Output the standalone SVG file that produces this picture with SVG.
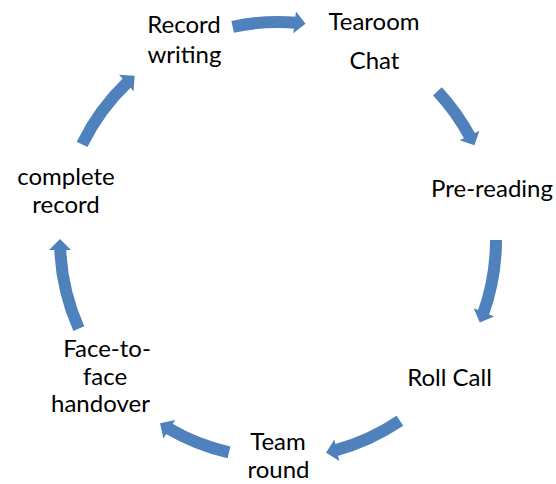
<svg xmlns="http://www.w3.org/2000/svg" width="556" height="484" viewBox="0 0 556 484">
<style>
.lbl{font-family:Lato,"Liberation Sans",sans-serif;font-size:24px;fill:#000;text-anchor:middle}
.shaft{fill:none;stroke:#4f81bd;stroke-width:12}
.head{fill:#4f81bd}
</style>
<defs>
<polygon id="hd" class="head" points="268,11 279,22 268,33"/>
</defs>
<rect width="556" height="484" fill="#fff"/>
<g id="connectors">
<g id="a1"><circle class="shaft" cx="278" cy="240" r="218" stroke-dasharray="63.9 2000" transform="rotate(-102 278 240)"/><use href="#hd" transform="rotate(7 278 240)"/></g>
<g id="a2"><circle class="shaft" cx="278" cy="240" r="218" stroke-dasharray="56.3 2000" transform="rotate(-43 278 240)"/><use href="#hd" transform="rotate(64 278 240)"/></g>
<g id="a3"><circle class="shaft" cx="278" cy="240" r="218" stroke-dasharray="75.3 2000" transform="rotate(0 278 240)"/><use href="#hd" transform="rotate(112 278 240)"/></g>
<g id="a4"><circle class="shaft" cx="278" cy="240" r="218" stroke-dasharray="71.5 2000" transform="rotate(56 278 240)"/><use href="#hd" transform="rotate(167 278 240)"/></g>
<g id="a5"><circle class="shaft" cx="278" cy="240" r="218" stroke-dasharray="65.8 2000" transform="rotate(103 278 240)"/><use href="#hd" transform="rotate(212.5 278 240)"/></g>
<g id="a6"><circle class="shaft" cx="278" cy="240" r="218" stroke-dasharray="82.9 2000" transform="rotate(156 278 240)"/><use href="#hd" transform="rotate(270 278 240)"/></g>
<g id="a7"><circle class="shaft" cx="278" cy="240" r="218" stroke-dasharray="77.6 2000" transform="rotate(206 278 240)"/><use href="#hd" transform="rotate(318.6 278 240)"/></g>
</g>
<g id="n-record-writing"><text class="lbl" x="184" y="33">Record</text><text class="lbl" x="184.5" y="63">writing</text></g>
<g id="n-tearoom-chat"><text class="lbl" x="374" y="30">Tearoom</text><text class="lbl" x="374.5" y="69">Chat</text></g>
<g id="n-pre-reading"><text class="lbl" x="492" y="197">Pre-reading</text></g>
<g id="n-roll-call"><text class="lbl" x="449.5" y="386">Roll Call</text></g>
<g id="n-team-round"><text class="lbl" x="278" y="450">Team</text><text class="lbl" x="278.5" y="478">round</text></g>
<g id="n-face-to-face"><text class="lbl" x="107" y="357">Face-to-</text><text class="lbl" x="105" y="385">face</text><text class="lbl" x="100.5" y="412">handover</text></g>
<g id="n-complete-record"><text class="lbl" x="66" y="185">complete</text><text class="lbl" x="66" y="213">record</text></g>
</svg>
